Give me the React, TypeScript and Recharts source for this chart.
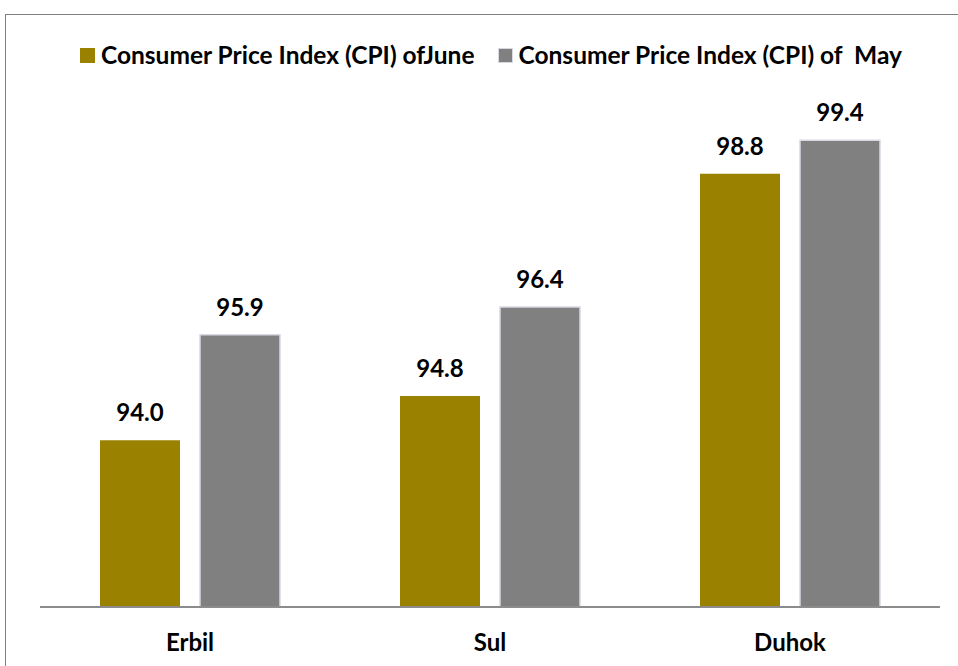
// App.tsx — CPI of June vs May by governorate
import { BarChart, Bar, XAxis, YAxis, Legend, LabelList } from 'recharts';

const cities = ['Erbil', 'Sul', 'Duhok'];
const juneCpi = [94.0, 94.8, 98.8];
const mayCpi = [95.9, 96.4, 99.4];

const juneName = 'Consumer Price Index (CPI) ofJune';
const mayName = 'Consumer Price Index (CPI) of  May';
const seriesOrder = ['june', 'may'];

const OLIVE = '#9a8200';
const GRAY = '#808080';
const FONT = 'Lato, "Open Sans", sans-serif';

const data = cities.map((city, i) => ({ city, june: juneCpi[i], may: mayCpi[i] }));

const LegendContent = ({ payload }: any) => {
  const items = [...(payload || [])].sort(
    (a: any, b: any) => seriesOrder.indexOf(a.dataKey) - seriesOrder.indexOf(b.dataKey)
  );
  return (
    <div style={{ display: 'flex', alignItems: 'center', paddingLeft: 80, fontFamily: FONT }}>
      {items.map((entry: any, i: number) => (
        <div key={i} style={{ display: 'flex', alignItems: 'center', marginRight: 23 }}>
          <span style={{
            display: 'inline-block',
            width: 15,
            height: 15,
            background: entry.color,
            border: entry.dataKey === 'may' ? '1px solid #d8d8e2' : 'none',
            boxSizing: 'border-box',
            marginRight: 6,
          }} />
          <span style={{ fontSize: 24.5, fontWeight: 700, color: '#000', whiteSpace: 'pre', lineHeight: '30px' }}>
            {entry.value}
          </span>
        </div>
      ))}
    </div>
  );
};

export default function App() {
  return (
    <div style={{ position: 'absolute', left: 0, top: 0, width: 958, height: 666, overflow: 'hidden', background: '#fff' }}>
      <div style={{
        position: 'absolute', left: 5, top: 14, width: 1000, height: 700,
        border: '1px solid #808080',
      }} />
      <div style={{ position: 'absolute', left: 0, top: 0 }}>
        <BarChart
          width={958}
          height={666}
          data={data}
          margin={{ top: 107, right: 18, left: 40, bottom: 29 }}
          barGap={20}
          barSize={80}
        >
          <XAxis
            dataKey="city"
            axisLine={{ stroke: '#8c8c8c', strokeWidth: 2 }}
            tickLine={false}
            tickMargin={21}
            tick={{ fill: '#000', fontSize: 24, fontWeight: 700, fontFamily: FONT }}
          />
          <YAxis hide domain={[91, 100]} allowDataOverflow />
          <Legend
            verticalAlign="top"
            content={<LegendContent />}
            wrapperStyle={{ top: 40, left: 0, width: 958, height: 0, overflow: 'visible' }}
          />
          <Bar dataKey="june" name={juneName} fill={OLIVE} isAnimationActive={false}>
            <LabelList
              dataKey="june"
              position="top"
              offset={19}
              formatter={(v: any) => Number(v).toFixed(1)}
              style={{ fill: '#000', fontSize: 24, fontWeight: 700, fontFamily: FONT }}
            />
          </Bar>
          <Bar dataKey="may" name={mayName} fill={GRAY} stroke="#d8d8e2" strokeWidth={1.5} isAnimationActive={false}>
            <LabelList
              dataKey="may"
              position="top"
              offset={19}
              formatter={(v: any) => Number(v).toFixed(1)}
              style={{ fill: '#000', fontSize: 24, fontWeight: 700, fontFamily: FONT }}
            />
          </Bar>
        </BarChart>
      </div>
    </div>
  );
}
